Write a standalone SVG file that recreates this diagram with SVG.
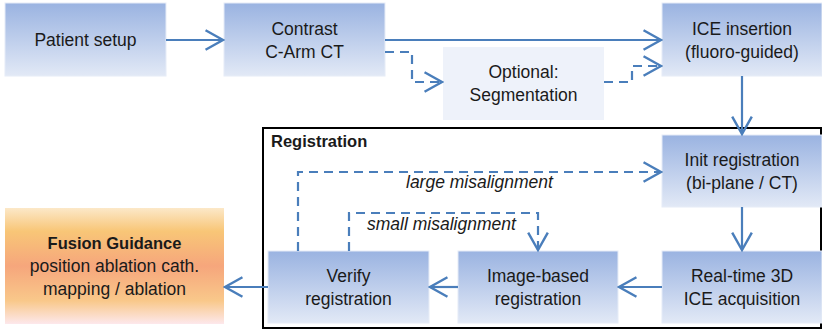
<svg xmlns="http://www.w3.org/2000/svg" width="822" height="330" viewBox="0 0 822 330">
<defs>
<linearGradient id="blue" x1="0" y1="0" x2="0" y2="1">
<stop offset="0" stop-color="#9ab3e1"/>
<stop offset="1" stop-color="#e2e9f6"/>
</linearGradient>
<linearGradient id="orange" x1="0" y1="0" x2="0" y2="1">
<stop offset="0" stop-color="#fce8c8"/>
<stop offset="0.2" stop-color="#f8c677"/>
<stop offset="0.5" stop-color="#f6a67c"/>
<stop offset="0.8" stop-color="#f9c88a"/>
<stop offset="1" stop-color="#fde8ec"/>
</linearGradient>
<marker id="arr" markerUnits="userSpaceOnUse" markerWidth="22" markerHeight="24" viewBox="-18 -11 20 22" refX="0" refY="0" orient="auto">
<path d="M-16,-9 L0,0 L-16,9" fill="none" stroke="#4a7ebb" stroke-width="2.2"/>
</marker>
<style>
text{font-family:"Liberation Sans",Arial,sans-serif;font-size:17.5px;fill:#1a1a1a;text-anchor:middle}
.bold{font-weight:bold;font-size:16.5px}
.b{fill:url(#blue);stroke:#e6ecf7;stroke-width:1}
.c{fill:none;stroke:#4a7ebb;stroke-width:2.2}
.d{stroke-dasharray:9 6}
.i{font-style:italic;text-anchor:start}
</style>
</defs>
<rect x="263" y="128" width="558" height="200" fill="none" stroke="#000" stroke-width="2"/>
<text x="271" y="147" class="bold" style="text-anchor:start">Registration</text>
<g id="patient"><rect class="b" x="5" y="3" width="161" height="73"/><text x="85.5" y="46">Patient setup</text></g>
<g id="contrast"><rect class="b" x="224" y="3" width="161" height="73"/><text x="304.5" y="35">Contrast</text><text x="304.5" y="58">C-Arm CT</text></g>
<g id="ice"><rect class="b" x="662" y="3" width="160" height="73"/><text x="742" y="35">ICE insertion</text><text x="742" y="58">(fluoro-guided)</text></g>
<g id="optional"><rect x="443" y="47" width="161" height="73" fill="#eef2fa"/><text x="523.5" y="78">Optional:</text><text x="523.5" y="101">Segmentation</text></g>
<g id="init"><rect class="b" x="662" y="135" width="160" height="72"/><text x="742" y="166">Init registration</text><text x="742" y="189">(bi-plane / CT)</text></g>
<g id="realtime"><rect class="b" x="662" y="251" width="160" height="72"/><text x="742" y="282">Real-time 3D</text><text x="742" y="305">ICE acquisition</text></g>
<g id="imagebased"><rect class="b" x="458" y="251" width="160" height="72"/><text x="538" y="282">Image-based</text><text x="538" y="305">registration</text></g>
<g id="verify"><rect class="b" x="268" y="251" width="161" height="72"/><text x="348.5" y="282">Verify</text><text x="348.5" y="305">registration</text></g>
<g id="fusion"><rect x="5" y="208" width="219" height="116" fill="url(#orange)"/><text x="114.5" y="249" class="bold">Fusion Guidance</text><text x="114.5" y="272">position ablation cath.</text><text x="114.5" y="295">mapping / ablation</text></g>
<g id="connectors">
<path class="c" d="M166,40 H223" marker-end="url(#arr)"/>
<path class="c" d="M385,40 H661" marker-end="url(#arr)"/>
<path class="c d" d="M385,52 H412 V82 H442" marker-end="url(#arr)"/>
<path class="c d" d="M604,82 H632 V66 H661" marker-end="url(#arr)"/>
<path class="c" d="M742,76 V134" marker-end="url(#arr)"/>
<path class="c" d="M742,207 V250" marker-end="url(#arr)"/>
<path class="c" d="M662,287 H619" marker-end="url(#arr)"/>
<path class="c" d="M458,287 H430" marker-end="url(#arr)"/>
<path class="c" d="M268,287 H225" marker-end="url(#arr)"/>
<path class="c d" d="M298,251 V172 H661" marker-end="url(#arr)"/>
<path class="c d" d="M349,251 V213 H538 V250" marker-end="url(#arr)"/>
<text class="i" x="406" y="188">large misalignment</text>
<text class="i" x="367" y="230">small misalignment</text>
</g>
</svg>
